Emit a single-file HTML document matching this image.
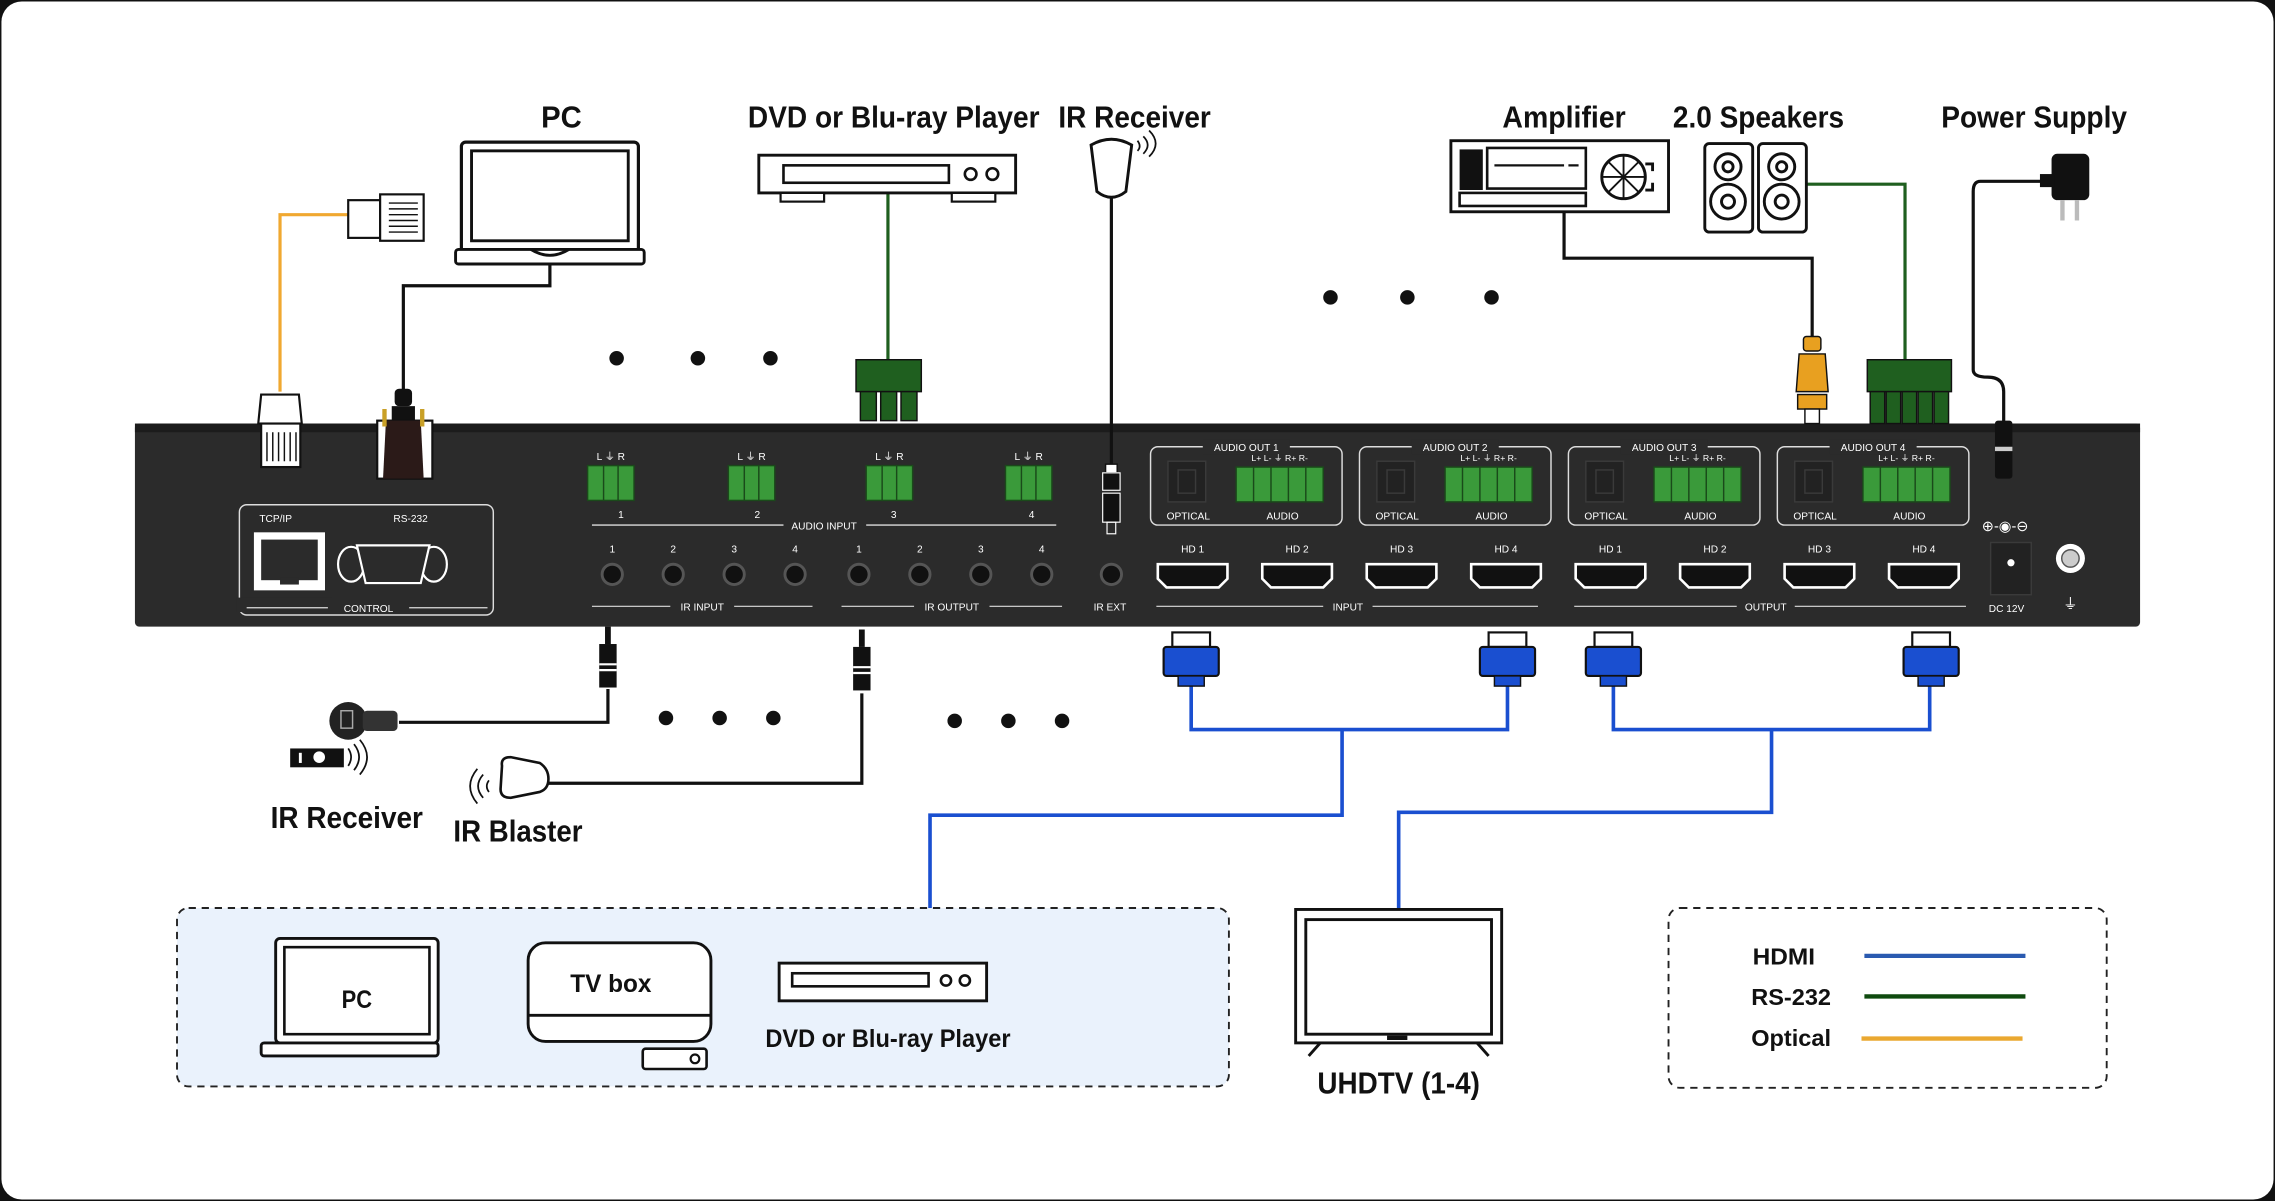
<!DOCTYPE html>
<html><head><meta charset="utf-8"><style>
html,body{margin:0;padding:0;background:#000;}
svg{display:block;}
text{font-family:"Liberation Sans Narrow","Liberation Sans",sans-serif;font-weight:bold;}
.t{font-size:21px;fill:#111;text-anchor:middle;}
.w{fill:#fff;font-size:7px;text-anchor:middle;font-weight:normal;}
</style></head><body>
<svg width="2275" height="1201" viewBox="0 0 1568 828" preserveAspectRatio="none" xmlns="http://www.w3.org/2000/svg">
<rect x="0" y="0" width="1568" height="828" fill="#111"/>
<rect x="1" y="1" width="1566" height="826" rx="14" fill="#fff"/>

<!-- MAIN DEVICE (drawn first) -->
<rect x="93" y="292" width="1382" height="140" rx="3" fill="#2b2b2b"/>
<rect x="93" y="292" width="1382" height="6" fill="#1c1c1c"/>
<!-- control -->
<rect x="165" y="348" width="175" height="76" rx="5" fill="none" stroke="#ddd" stroke-width="1"/>
<text class="w" x="190" y="360">TCP/IP</text><text class="w" x="283" y="360">RS-232</text>
<rect x="175" y="367" width="49" height="40" fill="#fff"/>
<rect x="180" y="372" width="39" height="28" fill="#2b2b2b"/>
<rect x="193" y="398" width="13" height="5" fill="#2b2b2b"/>
<ellipse cx="242" cy="389" rx="9" ry="12" fill="#2b2b2b" stroke="#fff" stroke-width="1.5"/>
<ellipse cx="299" cy="389" rx="9" ry="12" fill="#2b2b2b" stroke="#fff" stroke-width="1.5"/>
<path d="M246 376 H296 L290 402 H252 Z" fill="#2b2b2b" stroke="#fff" stroke-width="1.5"/>
<rect x="163" y="412" width="66" height="10" fill="#2b2b2b"/>
<path d="M170 419 H226 M282 419 H336" stroke="#ddd" stroke-width="0.8"/>
<text class="w" x="254" y="422">CONTROL</text>
<!-- audio input -->
<g id="ai">
<rect x="405" y="321" width="32" height="24" fill="#3a9a3a" stroke="#1a4a1a"/>
<path d="M416 321v24M426 321v24" stroke="#1a4a1a"/>
<text class="w" x="421" y="317">L ⏚ R</text>
</g>
<use href="#ai" x="97"/><use href="#ai" x="192"/><use href="#ai" x="288"/>
<text class="w" x="428" y="357">1</text><text class="w" x="522" y="357">2</text><text class="w" x="616" y="357">3</text><text class="w" x="711" y="357">4</text>
<path d="M408 362 H540 M597 362 H728" stroke="#ddd" stroke-width="1"/>
<text class="w" x="568" y="365">AUDIO INPUT</text>
<!-- IR jacks -->
<g fill="#111" stroke="#555" stroke-width="2">
<circle cx="422" cy="396" r="7"/><circle cx="464" cy="396" r="7"/><circle cx="506" cy="396" r="7"/><circle cx="548" cy="396" r="7"/>
<circle cx="592" cy="396" r="7"/><circle cx="634" cy="396" r="7"/><circle cx="676" cy="396" r="7"/><circle cx="718" cy="396" r="7"/>
<circle cx="766" cy="396" r="7"/>
</g>
<text class="w" x="422" y="381">1</text><text class="w" x="464" y="381">2</text><text class="w" x="506" y="381">3</text><text class="w" x="548" y="381">4</text>
<text class="w" x="592" y="381">1</text><text class="w" x="634" y="381">2</text><text class="w" x="676" y="381">3</text><text class="w" x="718" y="381">4</text>
<path d="M408 418 H462 M506 418 H560 M580 418 H630 M682 418 H732" stroke="#ddd" stroke-width="0.8"/>
<text class="w" x="484" y="421">IR INPUT</text><text class="w" x="656" y="421">IR OUTPUT</text><text class="w" x="765" y="421">IR EXT</text>
<!-- audio out -->
<g id="ao">
<rect x="793" y="308" width="132" height="54" rx="5" fill="none" stroke="#ddd" stroke-width="1"/>
<rect x="829" y="303" width="60" height="10" fill="#2b2b2b"/>
<rect x="805" y="318" width="26" height="28" fill="#222" stroke="#3a3a3a"/>
<rect x="812" y="324" width="12" height="16" fill="none" stroke="#3a3a3a"/>
<rect x="852" y="322" width="60" height="24" fill="#3a9a3a" stroke="#1a4a1a"/>
<path d="M864 322v24M876 322v24M888 322v24M900 322v24" stroke="#1a4a1a"/>
<text class="w" x="882" y="318" style="font-size:6px">L+ L- ⏚ R+ R-</text>
<text class="w" x="819" y="358">OPTICAL</text><text class="w" x="884" y="358">AUDIO</text>
</g>
<use href="#ao" x="144"/><use href="#ao" x="288"/><use href="#ao" x="432"/>
<text class="w" x="859" y="311">AUDIO OUT 1</text><text class="w" x="1003" y="311">AUDIO OUT 2</text><text class="w" x="1147" y="311">AUDIO OUT 3</text><text class="w" x="1291" y="311">AUDIO OUT 4</text>
<!-- HDMI -->
<g id="hd"><path d="M798 389 H846 V399 L840 405 H804 L798 399 Z" fill="#111" stroke="#fff" stroke-width="1.8"/></g>
<use href="#hd" x="72"/><use href="#hd" x="144"/><use href="#hd" x="216"/><use href="#hd" x="288"/><use href="#hd" x="360"/><use href="#hd" x="432"/><use href="#hd" x="504"/>
<text class="w" x="822" y="381">HD 1</text><text class="w" x="894" y="381">HD 2</text><text class="w" x="966" y="381">HD 3</text><text class="w" x="1038" y="381">HD 4</text>
<text class="w" x="1110" y="381">HD 1</text><text class="w" x="1182" y="381">HD 2</text><text class="w" x="1254" y="381">HD 3</text><text class="w" x="1326" y="381">HD 4</text>
<path d="M797 418 H912 M946 418 H1060 M1085 418 H1197 M1237 418 H1355" stroke="#ddd" stroke-width="0.8"/>
<text class="w" x="929" y="421">INPUT</text><text class="w" x="1217" y="421">OUTPUT</text>
<!-- DC -->
<text class="w" x="1382" y="366" style="font-size:10px">⊕-◉-⊖</text>
<rect x="1372" y="374" width="28" height="36" fill="#222" stroke="#3a3a3a"/>
<circle cx="1386" cy="388" r="2.5" fill="#fff"/>
<text class="w" x="1383" y="422">DC 12V</text>
<circle cx="1427" cy="385" r="10" fill="#fff"/><circle cx="1427" cy="385" r="6" fill="#ccc" stroke="#555"/>
<text class="w" x="1427" y="420" style="font-size:10px">⏚</text>

<!-- top labels -->
<text class="t" x="387" y="88" textLength="28" lengthAdjust="spacingAndGlyphs">PC</text>
<text class="t" x="616" y="88" textLength="201" lengthAdjust="spacingAndGlyphs">DVD or Blu-ray Player</text>
<text class="t" x="782" y="88" textLength="105" lengthAdjust="spacingAndGlyphs">IR Receiver</text>
<text class="t" x="1078" y="88" textLength="85" lengthAdjust="spacingAndGlyphs">Amplifier</text>
<text class="t" x="1212" y="88" textLength="118" lengthAdjust="spacingAndGlyphs">2.0 Speakers</text>
<text class="t" x="1402" y="88" textLength="128" lengthAdjust="spacingAndGlyphs">Power Supply</text>

<!-- cables top -->
<g fill="none" stroke-width="2.2">
<path d="M193 270 V148 H240" stroke="#f0a830"/>
<path d="M379 182 V197 H278 V270" stroke="#111"/>
<path d="M612 133 V250" stroke="#1f5f1f"/>
<path d="M766 135 V320" stroke="#111"/>
<path d="M1078 146 V178 H1249 V232" stroke="#111"/>
<path d="M1245 127 H1313 V250" stroke="#1f5f1f"/>
<path d="M1411 125 H1365 Q1360 125 1360 132 V255 Q1360 260 1370 260 Q1381 260 1381 270 V292" stroke="#111"/>
</g>

<!-- RJ45 top plug -->
<rect x="240" y="138" width="22" height="26" fill="#fff" stroke="#111" stroke-width="1.5"/>
<rect x="262" y="134" width="30" height="32" fill="#fff" stroke="#111" stroke-width="1.5"/>
<g stroke="#111" stroke-width="1"><path d="M268 140h20M268 144h20M268 148h20M268 152h20M268 156h20M268 160h20"/></g>
<!-- laptop -->
<rect x="318" y="98" width="122" height="76" rx="3" fill="#fff" stroke="#111" stroke-width="2.2"/>
<rect x="325" y="104" width="108" height="62" fill="#fff" stroke="#111" stroke-width="2"/>
<rect x="314" y="172" width="130" height="10" rx="2" fill="#fff" stroke="#111" stroke-width="2"/>
<path d="M366 172 Q379 180 392 172" fill="none" stroke="#111" stroke-width="2"/>
<!-- DVD -->
<rect x="523" y="107" width="177" height="26" fill="#fff" stroke="#111" stroke-width="2"/>
<rect x="540" y="114" width="114" height="12" fill="#fff" stroke="#111" stroke-width="1.8"/>
<circle cx="669" cy="120" r="4" fill="none" stroke="#111" stroke-width="1.8"/>
<circle cx="684" cy="120" r="4" fill="none" stroke="#111" stroke-width="1.8"/>
<rect x="538" y="133" width="30" height="6" fill="#fff" stroke="#111" stroke-width="1.5"/>
<rect x="656" y="133" width="30" height="6" fill="#fff" stroke="#111" stroke-width="1.5"/>
<!-- green 3pin -->
<rect x="590" y="248" width="45" height="22" fill="#1f5f1f" stroke="#111"/>
<rect x="593" y="270" width="11" height="20" fill="#1f5f1f" stroke="#111"/>
<rect x="607" y="270" width="11" height="20" fill="#1f5f1f" stroke="#111"/>
<rect x="621" y="270" width="11" height="20" fill="#1f5f1f" stroke="#111"/>
<!-- IR receiver top -->
<path d="M752 100 Q766 92 780 100 L776 132 Q766 140 756 132 Z" fill="#fff" stroke="#111" stroke-width="2"/>
<path d="M784 104 q3 -3 0 -7 M788 106 q6 -6 0 -12 M792 108 q9 -9 0 -18" fill="none" stroke="#111" stroke-width="1.2"/>
<!-- RJ45 bottom plug -->
<path d="M180 272 L206 272 L208 292 L178 292 Z" fill="#fff" stroke="#111" stroke-width="1.5"/>
<rect x="180" y="292" width="27" height="30" fill="#fff" stroke="#111" stroke-width="1.5"/>
<g stroke="#111" stroke-width="1"><path d="M184 298v20M188 298v20M192 298v20M196 298v20M200 298v20M204 298v20"/></g>
<!-- DB9 plug -->
<rect x="272" y="268" width="12" height="12" rx="3" fill="#111"/>
<rect x="270" y="280" width="16" height="10" fill="#111"/>
<rect x="260" y="290" width="38" height="40" fill="#fff" stroke="#111" stroke-width="1.5"/>
<path d="M266 290 L290 290 L292 330 L264 330 Z" fill="#2b1a18"/>
<path d="M265 282 v12 M291 282 v12" stroke="#c9a027" stroke-width="3"/>
<!-- IR ext plug -->
<rect x="762" y="320" width="8" height="6" fill="#fff" stroke="#111"/>
<rect x="760" y="326" width="12" height="12" fill="#111" stroke="#fff" stroke-width="0.8"/>
<rect x="760" y="340" width="12" height="20" fill="#111" stroke="#fff" stroke-width="0.8"/>
<rect x="763" y="360" width="6" height="8" fill="none" stroke="#fff" stroke-width="0.8"/>
<!-- dots -->
<g fill="#111">
<circle cx="425" cy="247" r="5"/><circle cx="481" cy="247" r="5"/><circle cx="531" cy="247" r="5"/>
<circle cx="917" cy="205" r="5"/><circle cx="970" cy="205" r="5"/><circle cx="1028" cy="205" r="5"/>
<circle cx="459" cy="495" r="5"/><circle cx="496" cy="495" r="5"/><circle cx="533" cy="495" r="5"/>
<circle cx="658" cy="497" r="5"/><circle cx="695" cy="497" r="5"/><circle cx="732" cy="497" r="5"/>
<circle cx="741" cy="686" r="6"/><circle cx="771" cy="686" r="6"/>
</g>
<!-- amplifier -->
<rect x="1000" y="97" width="150" height="49" fill="#fff" stroke="#111" stroke-width="2"/>
<rect x="1006" y="103" width="16" height="28" fill="#111"/>
<rect x="1025" y="102" width="68" height="28" fill="#fff" stroke="#111" stroke-width="1.8"/>
<path d="M1030 114 H1078 M1081 114 H1088" stroke="#111" stroke-width="1.5"/>
<rect x="1006" y="133" width="87" height="9" fill="#fff" stroke="#111" stroke-width="1.8"/>
<circle cx="1119" cy="122" r="15" fill="#fff" stroke="#111" stroke-width="2"/>
<path d="M1104 122h30M1119 107v30M1108 111l22 22M1130 111l-22 22" stroke="#111" stroke-width="1.3"/>
<path d="M1134 113h5v5M1134 131h5v-5" fill="none" stroke="#111" stroke-width="2"/>
<!-- speakers -->
<g fill="#fff" stroke="#111" stroke-width="2">
<rect x="1175" y="99" width="33" height="61" rx="3"/>
<rect x="1212" y="99" width="33" height="61" rx="3"/>
<circle cx="1191" cy="115" r="9"/><circle cx="1191" cy="115" r="3.5"/>
<circle cx="1191" cy="139" r="12"/><circle cx="1191" cy="139" r="4.5"/>
<circle cx="1228" cy="115" r="9"/><circle cx="1228" cy="115" r="3.5"/>
<circle cx="1228" cy="139" r="12"/><circle cx="1228" cy="139" r="4.5"/>
</g>
<!-- orange optical plug -->
<rect x="1243" y="232" width="12" height="10" rx="2" fill="#e8a020" stroke="#111"/>
<path d="M1240 244 H1258 L1260 270 H1238 Z" fill="#e8a020" stroke="#111"/>
<rect x="1239" y="272" width="20" height="10" fill="#e8a020" stroke="#111"/>
<rect x="1244" y="282" width="10" height="10" fill="#fff" stroke="#111"/>
<!-- green 5pin -->
<rect x="1287" y="248" width="58" height="22" fill="#1f5f1f" stroke="#111"/>
<g fill="#1f5f1f" stroke="#111"><rect x="1289" y="270" width="10" height="22"/><rect x="1300" y="270" width="10" height="22"/><rect x="1311" y="270" width="10" height="22"/><rect x="1322" y="270" width="10" height="22"/><rect x="1333" y="270" width="10" height="22"/></g>
<!-- power adapter -->
<rect x="1414" y="106" width="26" height="32" rx="4" fill="#111"/>
<rect x="1406" y="120" width="10" height="9" fill="#111"/>
<rect x="1420" y="138" width="3" height="14" fill="#bbb"/><rect x="1430" y="138" width="3" height="14" fill="#bbb"/>
<rect x="1375" y="290" width="12" height="40" rx="2" fill="#111"/>
<rect x="1375" y="308" width="12" height="3" fill="#ccc"/>

<!-- bottom IR plugs and cables -->
<g fill="none" stroke="#111" stroke-width="2.2">
<path d="M419 475 V498 H275"/>
<path d="M594 478 V540 H378"/>
</g>
<g id="ip"><rect x="417" y="432" width="4" height="12" fill="#111"/>
<rect x="413" y="444" width="12" height="30" fill="#111"/>
<path d="M413 458h12M413 462h12" stroke="#fff" stroke-width="1.5"/></g>
<use href="#ip" x="175" y="2"/>
<!-- IR receiver bottom -->
<circle cx="240" cy="497" r="13" fill="#222"/>
<rect x="250" y="490" width="24" height="14" rx="3" fill="#333"/>
<rect x="235" y="490" width="8" height="12" fill="none" stroke="#aaa"/>
<rect x="200" y="516" width="37" height="13" fill="#111"/>
<rect x="206" y="519" width="2" height="7" fill="#fff"/><circle cx="220" cy="522" r="4" fill="#fff"/>
<path d="M240 516 q4 6 0 12 M244 513 q7 9 0 18 M248 510 q10 12 0 24" fill="none" stroke="#111" stroke-width="1.2"/>
<!-- blaster -->
<path d="M346 528 Q345 522 352 522 L372 526 Q378 530 378 537 Q378 544 372 546 L352 550 Q345 550 345 544 Z" fill="#fff" stroke="#111" stroke-width="1.8"/>
<path d="M337 546 q-3 -4 0 -8 M333 550 q-7 -8 0 -16 M329 554 q-10 -12 0 -24" fill="none" stroke="#111" stroke-width="1.2"/>
<text class="t" x="239" y="571" textLength="105" lengthAdjust="spacingAndGlyphs">IR Receiver</text>
<text class="t" x="357" y="580" textLength="89" lengthAdjust="spacingAndGlyphs">IR Blaster</text>

<!-- HDMI blue cables -->
<g fill="none" stroke="#1a4fd0" stroke-width="2.5">
<path d="M821 472 V503 H1039 V472"/>
<path d="M925 503 V562 H641 V626"/>
<path d="M1112 472 V503 H1330 V472"/>
<path d="M1221 503 V560 H964 V626"/>
</g>
<g id="hp">
<rect x="808" y="436" width="26" height="10" fill="#fff" stroke="#111" stroke-width="1.5"/>
<rect x="802" y="446" width="38" height="20" rx="2" fill="#1a4fd0" stroke="#111" stroke-width="1.5"/>
<rect x="812" y="466" width="18" height="7" fill="#1a4fd0" stroke="#111"/>
</g>
<use href="#hp" x="218"/><use href="#hp" x="291"/><use href="#hp" x="510"/>

<!-- bottom sources box -->
<rect x="122" y="626" width="725" height="123" rx="8" fill="#eaf2fc" stroke="#222" stroke-width="1.3" stroke-dasharray="5,4"/>
<rect x="190" y="647" width="112" height="72" rx="3" fill="#fff" stroke="#111" stroke-width="2"/>
<rect x="196" y="653" width="100" height="60" fill="#fff" stroke="#111" stroke-width="1.8"/>
<rect x="180" y="719" width="122" height="9" rx="2" fill="#fff" stroke="#111" stroke-width="2"/>
<text class="t" x="246" y="695" style="font-size:17px" textLength="21" lengthAdjust="spacingAndGlyphs">PC</text>
<rect x="364" y="650" width="126" height="68" rx="12" fill="#fff" stroke="#111" stroke-width="2"/>
<path d="M364 700 H490" stroke="#111" stroke-width="2"/>
<text class="t" x="421" y="684" style="font-size:17px" textLength="56" lengthAdjust="spacingAndGlyphs">TV box</text>
<rect x="443" y="723" width="44" height="14" rx="2" fill="#fff" stroke="#111" stroke-width="1.8"/>
<circle cx="479" cy="730" r="3" fill="none" stroke="#111" stroke-width="1.5"/>
<rect x="537" y="664" width="143" height="26" fill="#fff" stroke="#111" stroke-width="2"/>
<rect x="546" y="671" width="94" height="9" fill="#fff" stroke="#111" stroke-width="1.8"/>
<circle cx="652" cy="676" r="3.5" fill="none" stroke="#111" stroke-width="1.8"/>
<circle cx="665" cy="676" r="3.5" fill="none" stroke="#111" stroke-width="1.8"/>
<text class="t" x="612" y="722" style="font-size:17px" textLength="169" lengthAdjust="spacingAndGlyphs">DVD or Blu-ray Player</text>

<!-- TV -->
<rect x="893" y="627" width="142" height="92" fill="#fff" stroke="#111" stroke-width="2"/>
<rect x="900" y="634" width="128" height="79" fill="#fff" stroke="#111" stroke-width="2"/>
<rect x="956" y="714" width="14" height="3" fill="#111"/>
<path d="M910 719 L902 728 M1018 719 L1026 728" stroke="#111" stroke-width="2"/>
<text class="t" x="964" y="754" textLength="112" lengthAdjust="spacingAndGlyphs">UHDTV (1-4)</text>

<!-- legend -->
<rect x="1150" y="626" width="302" height="124" rx="8" fill="#fff" stroke="#222" stroke-width="1.3" stroke-dasharray="5,4"/>
<text x="1208" y="665" style="font-size:16px" fill="#111" textLength="43" lengthAdjust="spacingAndGlyphs">HDMI</text>
<text x="1207" y="693" style="font-size:16px" fill="#111" textLength="55" lengthAdjust="spacingAndGlyphs">RS-232</text>
<text x="1207" y="721" style="font-size:16px" fill="#111" textLength="55" lengthAdjust="spacingAndGlyphs">Optical</text>
<path d="M1285 659 H1396" stroke="#2a5ab0" stroke-width="3"/>
<path d="M1285 687 H1396" stroke="#0f4a0f" stroke-width="3"/>
<path d="M1283 716 H1394" stroke="#eaa830" stroke-width="3"/>
</svg>
</body></html>
